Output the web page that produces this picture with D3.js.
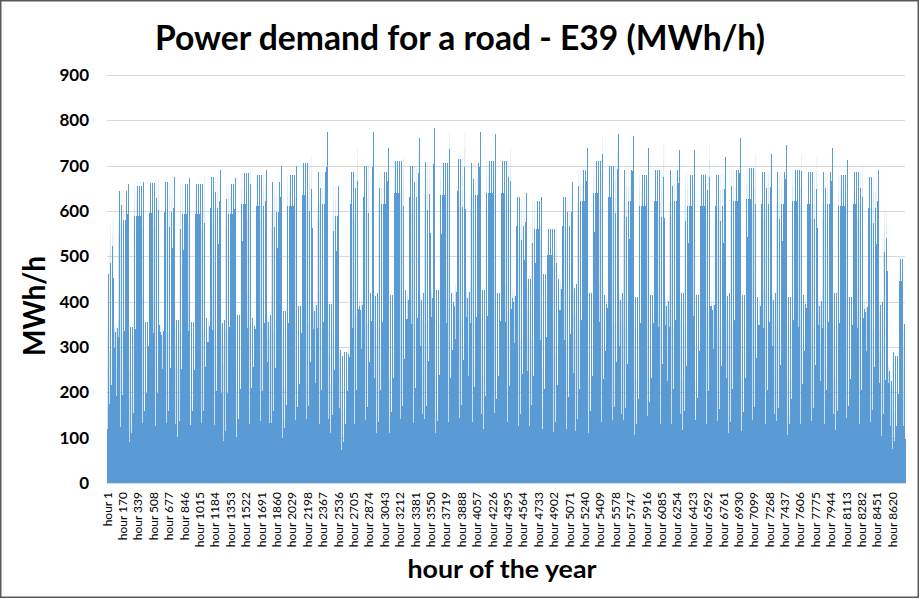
<!DOCTYPE html>
<html>
<head>
<meta charset="utf-8">
<script src="https://cdn.jsdelivr.net/npm/d3@7"></script>
<style>
  body { margin: 0; background: #fff; }
  text { font-family: Lato, "Open Sans", sans-serif; }
</style>
</head>
<body>
<div id="chart"></div>
<script>
// DATA (2014, Jan 1 = Wednesday, weeks start on Monday)
// weekday peak per week (Mon-Thu), Friday peak (the tallest spike), weekend peak
const weekdayPeak = [570, 645, 655, 662, 665, 660, 660, 675, 660, 684, 680, 665, 680, 705, 685, 655,
  685, 700, 685, 710, 700, 708, 705, 715, 705, 710, 710, 630, 622, 560, 630, 690, 710, 700, 690, 680,
  690, 690, 680, 680, 680, 690, 695, 685, 685, 690, 685, 685, 680, 685, 675, 600, 495];
const fridayPeak = [580, 660, 665, 670, 675, 672, 675, 690, 672, 695, 690, 700, 700, 720, 775, 660,
  740, 775, 740, 720, 760, 783, 775, 775, 775, 770, 740, 640, 630, 570, 665, 740, 765, 770, 765, 740,
  750, 735, 735, 750, 720, 760, 725, 725, 745, 725, 720, 740, 712, 700, 690, 645, 495];
const weekendPeak = [350, 345, 355, 350, 360, 355, 365, 360, 370, 365, 370, 380, 390, 400, 395, 290,
  410, 420, 415, 425, 420, 425, 420, 430, 425, 420, 430, 450, 460, 450, 440, 420, 415, 420, 410, 415,
  410, 420, 415, 410, 420, 415, 410, 420, 410, 415, 410, 420, 410, 405, 400, 280, 300];
// holidays: day of year (0-based) and peak
const holidayDays = [0, 106, 107, 110, 120, 148, 159, 357, 358, 359, 364];
const holidayPeak = [460, 300, 280, 300, 420, 430, 440, 260, 230, 290, 350];
// typical hourly shape as a share of the day's peak
const weekdayShape = [0.13, 0.10, 0.08, 0.08, 0.10, 0.20, 0.50, 0.90, 0.85, 0.62, 0.55, 0.56,
  0.58, 0.62, 0.75, 0.95, 1.00, 0.78, 0.52, 0.38, 0.30, 0.24, 0.19, 0.15];
const weekendShape = [0.26, 0.19, 0.15, 0.13, 0.13, 0.16, 0.24, 0.36, 0.55, 0.72, 0.85, 0.95,
  1.00, 0.98, 0.96, 0.95, 0.93, 0.85, 0.70, 0.56, 0.45, 0.38, 0.32, 0.28];
const yTicks = [0, 100, 200, 300, 400, 500, 600, 700, 800, 900];
const labelStep = 169;

// BUILD HOURLY TABLE FROM THE ARRAYS
const hours = [];
for (let d = 0; d < 365; d++) {
  const dow = (d + 2) % 7;          // 0 = Monday
  const w = d < 5 ? 0 : Math.floor((d - 5) / 7) + 1;
  const hi = holidayDays.indexOf(d);
  let peak, shape;
  if (hi >= 0) { peak = holidayPeak[hi]; shape = weekendShape; }
  else if (dow >= 5) { peak = weekendPeak[w]; shape = weekendShape; }
  else if (dow === 4) { peak = fridayPeak[w]; shape = weekdayShape; }
  else { peak = weekdayPeak[w]; shape = weekdayShape; }
  for (let h = 0; h < 24; h++) {
    hours.push({ label: "hour " + (d * 24 + h + 1), value: peak * shape[h] });
  }
}

const width = 920, height = 599;
const margin = { top: 75, right: 15, bottom: 116, left: 107 };

const svg = d3.select("#chart").append("svg")
  .attr("width", width)
  .attr("height", height);

svg.append("rect")
  .attr("x", 0.75).attr("y", 0.75)
  .attr("width", width - 2.5).attr("height", height - 2.5)
  .attr("fill", "#fff")
  .attr("stroke", "#595959")
  .attr("stroke-width", 1.5);

const x = d3.scaleBand()
  .domain(hours.map(d => d.label))
  .range([margin.left, width - margin.right])
  .paddingInner(0).paddingOuter(0);

const y = d3.scaleLinear()
  .domain([0, 900])
  .range([height - margin.bottom, margin.top]);

// GRIDLINES
svg.append("g")
  .selectAll("line")
  .data(yTicks)
  .join("line")
  .attr("x1", margin.left).attr("x2", width - margin.right)
  .attr("y1", d => Math.round(y(d)) + 0.5).attr("y2", d => Math.round(y(d)) + 0.5)
  .attr("stroke", "#d9d9d9").attr("stroke-width", 1);

// BARS: a soft antialiased layer gives the pale tips, a crisp layer on top
// gives the solid columns
svg.append("g")
  .attr("opacity", 0.45)
  .selectAll("rect")
  .data(hours)
  .join("rect")
  .attr("x", d => x(d.label))
  .attr("y", d => y(d.value))
  .attr("width", x.bandwidth() * 3)
  .attr("height", d => y(0) - y(d.value))
  .attr("fill", "#5b9bd5");

svg.append("g")
  .attr("shape-rendering", "crispEdges")
  .selectAll("rect")
  .data(hours)
  .join("rect")
  .attr("x", d => x(d.label))
  .attr("y", d => y(d.value))
  .attr("width", x.bandwidth() * 7)
  .attr("height", d => y(0) - y(d.value))
  .attr("fill", "#5b9bd5");

// Y AXIS
const yAxis = svg.append("g")
  .attr("transform", "translate(" + margin.left + ",0)")
  .call(d3.axisLeft(y).tickValues(yTicks).tickSize(0).tickPadding(18));
yAxis.select(".domain").remove();
yAxis.selectAll("text")
  .style("font-size", "17px")
  .style("font-weight", "bold")
  .attr("fill", "#000");

// X AXIS
const xAxis = svg.append("g")
  .attr("transform", "translate(0," + y(0) + ")")
  .call(d3.axisBottom(x)
    .tickValues(hours.filter((d, i) => i % labelStep === 0).map(d => d.label))
    .tickSize(0));
xAxis.select(".domain").attr("stroke", "#d9d9d9");
xAxis.selectAll("text")
  .attr("transform", "rotate(-90)")
  .attr("x", -9).attr("y", 0).attr("dy", "0.35em")
  .style("text-anchor", "end")
  .style("font-size", "12px")
  .attr("fill", "#000");

// TITLES
svg.append("text")
  .attr("x", 460).attr("y", 50)
  .attr("text-anchor", "middle")
  .attr("textLength", 610).attr("lengthAdjust", "spacingAndGlyphs")
  .style("font-size", "34px").style("font-weight", "bold")
  .text("Power demand for a road - E39 (MWh/h)");

svg.append("text")
  .attr("transform", "translate(45,306) rotate(-90)")
  .attr("text-anchor", "middle")
  .attr("textLength", 100).attr("lengthAdjust", "spacingAndGlyphs")
  .style("font-size", "30px").style("font-weight", "bold")
  .text("MWh/h");

svg.append("text")
  .attr("x", 502).attr("y", 578)
  .attr("text-anchor", "middle")
  .attr("textLength", 189).attr("lengthAdjust", "spacingAndGlyphs")
  .style("font-size", "25px").style("font-weight", "bold")
  .text("hour of the year");
</script>
</body>
</html>
